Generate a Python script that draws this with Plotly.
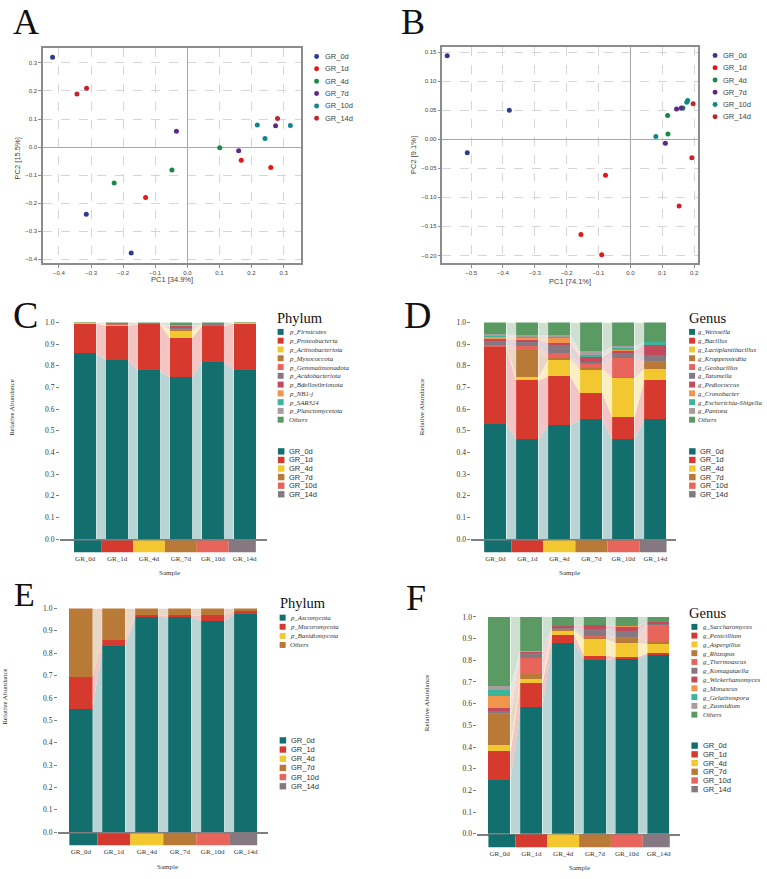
import plotly.graph_objects as go
import numpy as np

W, H = 767, 879


def px(v):
    return v / W


def py(v):
    return 1 - v / H


SANS = "Liberation Sans, Arial, sans-serif"
SERIF = "Liberation Serif, Times New Roman, serif"

# ---------------- data ----------------
groups = ["GR_0d", "GR_1d", "GR_4d", "GR_7d", "GR_10d", "GR_14d"]
pca_colors = ["#2f3b8e", "#e3181c", "#178a4a", "#5c2a86", "#138786", "#c1262d"]
group_colors = ["#136e6e", "#d63a2f", "#f2c72f", "#b97a37", "#e8655b", "#857880"]
palette = ["#136e6e", "#d63a2f", "#f2c72f", "#b97a37", "#e8655b", "#857880",
           "#c34a5b", "#f0954b", "#3db59c", "#a99e9e", "#5b9a63"]

# Panel A: PCA (bacteria)
pcaA_pc1 = [[-0.42, -0.315, -0.175], [-0.13, 0.168, 0.26], [-0.228, -0.048, 0.101],
            [-0.034, 0.16, 0.275], [0.218, 0.242, 0.321], [-0.344, -0.314, 0.281]]
pcaA_pc2 = [[0.32, -0.24, -0.378], [-0.18, -0.047, -0.073], [-0.128, -0.082, -0.003],
            [0.056, -0.013, 0.076], [0.079, 0.03, 0.077], [0.189, 0.21, 0.102]]

# Panel B: PCA (fungi)
pcaB_pc1 = [[-0.575, -0.38, -0.512], [-0.078, -0.155, -0.09], [0.117, 0.118, 0.165],
            [0.145, 0.16, 0.11], [0.08, 0.177, 0.18], [0.197, 0.193, 0.153]]
pcaB_pc2 = [[0.144, 0.05, -0.023], [-0.062, -0.164, -0.199], [0.041, 0.009, 0.054],
            [0.052, 0.054, -0.007], [0.005, 0.064, 0.067], [0.061, -0.032, -0.115]]

# Panel C: bacterial phylum
phylumC_names = ["p_Firmicutes", "p_Proteobacteria", "p_Actinobacteriota", "p_Myxococcota",
                 "p_Gemmatimonadota", "p_Acidobacteriota", "p_Bdellovibrionota", "p_NB1-j",
                 "p_SAR324", "p_Planctomycetota", "Others"]
phylumC_values = [
    [0.858, 0.825, 0.777, 0.746, 0.815, 0.779],
    [0.137, 0.161, 0.215, 0.181, 0.167, 0.216],
    [0.001, 0.003, 0.001, 0.035, 0.004, 0.001],
    [0.000, 0.001, 0.000, 0.002, 0.001, 0.000],
    [0.000, 0.001, 0.000, 0.008, 0.001, 0.000],
    [0.000, 0.001, 0.000, 0.004, 0.001, 0.000],
    [0.000, 0.001, 0.000, 0.006, 0.000, 0.000],
    [0.000, 0.000, 0.000, 0.002, 0.000, 0.000],
    [0.000, 0.000, 0.000, 0.001, 0.000, 0.000],
    [0.000, 0.000, 0.000, 0.002, 0.000, 0.000],
    [0.004, 0.007, 0.007, 0.013, 0.011, 0.004],
]

# Panel D: bacterial genus
genusD_names = ["g_Weissella", "g_Bacillus", "g_Lactiplantibacillus", "g_Kroppenstedtia",
                "g_Geobacillus", "g_Tatumella", "g_Pediococcus", "g_Cronobacter",
                "g_Escherichia-Shigella", "g_Pantoea", "Others"]
genusD_values = [
    [0.528, 0.460, 0.525, 0.551, 0.460, 0.554],
    [0.358, 0.271, 0.225, 0.122, 0.100, 0.180],
    [0.002, 0.015, 0.078, 0.110, 0.184, 0.050],
    [0.000, 0.124, 0.005, 0.005, 0.002, 0.036],
    [0.007, 0.020, 0.022, 0.017, 0.090, 0.002],
    [0.020, 0.020, 0.040, 0.012, 0.020, 0.026],
    [0.008, 0.008, 0.010, 0.022, 0.012, 0.050],
    [0.010, 0.010, 0.022, 0.004, 0.006, 0.000],
    [0.004, 0.004, 0.008, 0.003, 0.008, 0.009],
    [0.008, 0.010, 0.005, 0.020, 0.008, 0.000],
    [0.055, 0.058, 0.060, 0.134, 0.110, 0.093],
]

# Panel E: fungal phylum
phylumE_names = ["p_Ascomycota", "p_Mucoromycota", "p_Basidiomycota", "Others"]
phylumE_values = [
    [0.549, 0.829, 0.963, 0.959, 0.944, 0.973],
    [0.144, 0.026, 0.006, 0.010, 0.025, 0.015],
    [0.000, 0.000, 0.000, 0.000, 0.000, 0.000],
    [0.307, 0.145, 0.031, 0.031, 0.031, 0.012],
]
phylumE_colors = ["#136e6e", "#d63a2f", "#f2c72f", "#b97a37"]

# Panel F: fungal genus
genusF_names = ["g_Saccharomyces", "g_Penicillium", "g_Aspergillus", "g_Rhizopus",
                "g_Thermoascus", "g_Komagataella", "g_Wickerhamomyces", "g_Monascus",
                "g_Gelatinospora", "g_Zasmidium", "Others"]
genusF_values = [
    [0.248, 0.587, 0.882, 0.801, 0.807, 0.829],
    [0.133, 0.108, 0.036, 0.021, 0.010, 0.004],
    [0.027, 0.020, 0.020, 0.075, 0.063, 0.043],
    [0.145, 0.023, 0.003, 0.013, 0.024, 0.010],
    [0.004, 0.072, 0.004, 0.003, 0.003, 0.080],
    [0.010, 0.024, 0.005, 0.030, 0.030, 0.006],
    [0.014, 0.009, 0.010, 0.018, 0.021, 0.007],
    [0.054, 0.001, 0.000, 0.000, 0.002, 0.000],
    [0.030, 0.000, 0.000, 0.000, 0.000, 0.000],
    [0.015, 0.001, 0.000, 0.000, 0.000, 0.000],
    [0.320, 0.155, 0.040, 0.039, 0.040, 0.021],
]

# ---------------- figure ----------------
fig = go.Figure()
layout = dict(
    width=W, height=H, margin=dict(l=0, r=0, t=0, b=0),
    paper_bgcolor="white", plot_bgcolor="white",
    showlegend=False, barmode="stack", bargap=0,
    annotations=[], shapes=[],
)
ann = layout["annotations"]
shp = layout["shapes"]


def lighten(hexc, a=0.3):
    r, g, b = int(hexc[1:3], 16), int(hexc[3:5], 16), int(hexc[5:7], 16)
    f = lambda c: int(round(255 - a * (255 - c)))
    return "rgb(%d,%d,%d)" % (f(r), f(g), f(b))


def text(x, y, s, size, family=SERIF, color="#222", xanchor="left", angle=0):
    ann.append(dict(x=px(x), y=py(y), xref="paper", yref="paper", text=s,
                    showarrow=False, xanchor=xanchor, yanchor="middle", textangle=angle,
                    font=dict(size=size, family=family, color=color)))


def pca_panel(idx, pc1, pc2, xdom, ydom, xr, yr, ydtick, yfmt, xlab, ylab,
              xlab_pos, ylab_pos, leg_x, leg_y0, leg_dy):
    xa, ya = ("x", "y") if idx == 1 else ("x%d" % idx, "y%d" % idx)
    for g in range(6):
        fig.add_trace(go.Scatter(x=pc1[g], y=pc2[g], mode="markers", name=groups[g],
                                 marker=dict(size=5, color=pca_colors[g]),
                                 xaxis=xa, yaxis=ya))
    common = dict(showline=True, mirror=True, linecolor="#8c8c8c", linewidth=1.5,
                  showgrid=True, gridcolor="#d6d6d6", griddash="dash", gridwidth=1,
                  zeroline=True, zerolinecolor="#a8a8a8", zerolinewidth=1,
                  ticks="outside", ticklen=3, tickcolor="#8c8c8c",
                  tickfont=dict(size=6, family=SANS, color="#444"))
    kx = "xaxis" if idx == 1 else "xaxis%d" % idx
    ky = "yaxis" if idx == 1 else "yaxis%d" % idx
    layout[kx] = dict(domain=[px(xdom[0]), px(xdom[1])], range=xr, anchor=ya,
                      dtick=0.1, tick0=0, tickformat=".1f", **common)
    layout[ky] = dict(domain=[py(ydom[1]), py(ydom[0])], range=yr, anchor=xa,
                      dtick=ydtick, tick0=0, tickformat=yfmt, **common)
    text(xlab_pos[0], xlab_pos[1], xlab, 7.5, SANS, "#444", "center")
    text(ylab_pos[0], ylab_pos[1], ylab, 7.5, SANS, "#444", "center", -90)
    for g in range(6):
        cy = leg_y0 + g * leg_dy
        shp.append(dict(type="circle", xref="paper", yref="paper",
                        x0=px(leg_x - 2.5), x1=px(leg_x + 2.5), y0=py(cy + 2.5), y1=py(cy - 2.5),
                        fillcolor=pca_colors[g], line=dict(width=0)))
        text(leg_x + 6, cy, groups[g], 7.5, SANS, "#444")


def bar_panel(idx, names, values, colors, xdom, ydom, centers, strip, title,
              title_pos, leg_sq_x, leg_txt_x, leg_y0, leg_dy, grp_sq_x, grp_txt_x,
              grp_y0, grp_dy, ylab_pos, xlab_pos):
    xa, ya = "x%d" % idx, "y%d" % idx
    vals = np.array(values, dtype=float)
    tops = np.cumsum(vals, axis=0)
    bots = tops - vals
    bw = 0.7
    # connecting bands between neighbouring bars
    for k in range(len(names)):
        xs, ys = [], []
        for i in range(5):
            xs += [i + bw / 2, i + bw / 2, i + 1 - bw / 2, i + 1 - bw / 2, i + bw / 2, None]
            ys += [bots[k, i], tops[k, i], tops[k, i + 1], bots[k, i + 1], bots[k, i], None]
        fig.add_trace(go.Scatter(x=xs, y=ys, mode="lines", fill="toself",
                                 fillcolor=lighten(colors[k]),
                                 line=dict(width=0, color="rgba(0,0,0,0)"),
                                 hoverinfo="skip", xaxis=xa, yaxis=ya))
    for k in range(len(names)):
        fig.add_trace(go.Bar(x=list(range(6)), y=vals[k], width=bw, name=names[k],
                             marker=dict(color=colors[k], line=dict(width=0)),
                             xaxis=xa, yaxis=ya))
    # unit spacing between category centres (pixels)
    step = (centers[1] - centers[0]) / 5
    xr = [(xdom[0] - centers[0]) / step, (xdom[1] - centers[0]) / step]
    layout["xaxis%d" % idx] = dict(
        domain=[px(xdom[0]), px(xdom[1])], range=xr, anchor=ya,
        showline=True, linecolor="#7f7f7f", linewidth=1.5, showgrid=False, zeroline=False,
        tickvals=list(range(6)), ticktext=groups, ticks="outside", ticklen=12,
        tickcolor="rgba(0,0,0,0)", tickfont=dict(size=7, family=SERIF, color="#333"))
    layout["yaxis%d" % idx] = dict(
        domain=[py(ydom[1]), py(ydom[0])], range=[0, 1], anchor=xa,
        showline=False, showgrid=False, zeroline=False, dtick=0.1, tick0=0,
        tickformat=".1f", ticks="outside", ticklen=3, tickcolor="#7f7f7f",
        tickfont=dict(size=7.5, family=SERIF, color="#333"))
    # sample colour strip below the axis
    for i in range(6):
        shp.append(dict(type="rect", xref=xa, yref="paper", layer="above",
                        x0=max(i - 0.5, -bw / 2), x1=min(i + 0.5, 5 + bw / 2),
                        y0=py(strip[1]), y1=py(strip[0]),
                        fillcolor=group_colors[i], line=dict(width=0)))
    # legends
    text(title_pos[0], title_pos[1], title, 14.5, SERIF, "#111")
    for k, nm in enumerate(names):
        cy = leg_y0 + k * leg_dy
        shp.append(dict(type="rect", xref="paper", yref="paper",
                        x0=px(leg_sq_x), x1=px(leg_sq_x + 6), y0=py(cy + 3), y1=py(cy - 3),
                        fillcolor=colors[k], line=dict(width=0)))
        text(leg_txt_x, cy, "<i>%s</i>" % nm, 6.8, SERIF, "#333")
    for g in range(6):
        cy = grp_y0 + g * grp_dy
        shp.append(dict(type="rect", xref="paper", yref="paper",
                        x0=px(grp_sq_x), x1=px(grp_sq_x + 6.5), y0=py(cy + 3.2), y1=py(cy - 3.2),
                        fillcolor=group_colors[g], line=dict(width=0)))
        text(grp_txt_x, cy, groups[g], 7.5, SANS, "#333")
    text(ylab_pos[0], ylab_pos[1], "Relative Abundance", 7, SERIF, "#333", "center", -90)
    text(xlab_pos[0], xlab_pos[1], "Sample", 7, SERIF, "#333", "center")


pca_panel(1, pcaA_pc1, pcaA_pc2, (43, 301), (44, 262), [-0.45, 0.353], [-0.415, 0.355],
          0.1, ".1f", "PC1 [34.9%]", "PC2 [15.5%]", (172, 278.5), (17, 156),
          317, 53, 12.5)
pca_panel(2, pcaB_pc1, pcaB_pc2, (443, 699), (43, 262), [-0.59, 0.2126], [-0.2136, 0.1597],
          0.05, ".2f", "PC1 [74.1%]", "PC2 [9.1%]", (571, 280.5), (414, 152),
          716, 52, 12.4)

bar_panel(3, phylumC_names, phylumC_values, palette, (60, 267), (321.7, 540.7),
          (85.3, 245.0), (542, 554), "Phylum", (275, 317),
          278, 287.3, 331.3, 8.87, 278.3, 287.5, 452, 8.67, (12, 407), (170, 575))
bar_panel(4, genusD_names, genusD_values, palette, (472, 677), (321.7, 540.7),
          (496.0, 656.2), (542, 554), "Genus", (688, 317),
          690, 697.3, 331.3, 8.87, 690, 699, 452, 8.67, (422, 407), (570.7, 575))
bar_panel(5, phylumE_names, phylumE_values, phylumE_colors, (58, 268), (610.7, 836.7),
          (81.0, 246.0), (838, 850), "Phylum", (278, 605),
          280, 288.3, 620, 9.2, 280, 289.3, 744, 9.27, (5, 699), (168, 872))
bar_panel(6, genusF_names, genusF_values, palette, (478, 681), (619.3, 838.3),
          (500.2, 659.5), (839, 852), "Genus", (688, 615),
          692.3, 702, 629.3, 8.87, 692.3, 702, 749.3, 8.8, (427, 706), (580, 873))

# panel letters
for letter, x, y, s in [("A", 11, 18, 36), ("B", 400, 18, 36), ("C", 11, 314, 38),
                        ("D", 403, 314, 38), ("E", 12, 597, 34), ("F", 405, 600, 36)]:
    text(x, y, letter, s, SERIF, "#111")

fig.update_layout(**layout)
fig.write_html("out.html")
